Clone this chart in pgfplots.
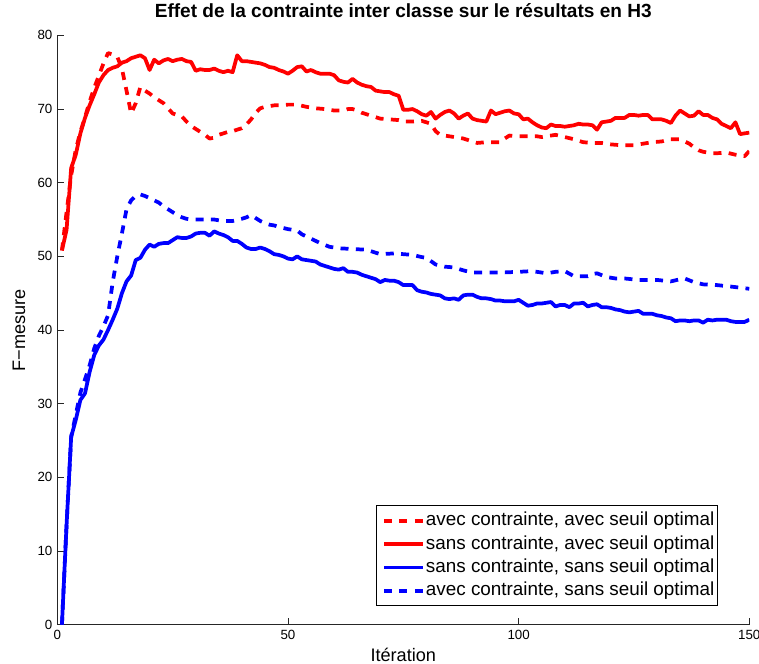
\documentclass[border=0pt]{standalone}
\usepackage{fontspec}
\setmainfont{Liberation Sans}
\usepackage{pgfplots}
\pgfplotsset{compat=1.18}

\begin{document}
\begin{tikzpicture}
\begin{axis}[
    scale only axis, width=519pt, height=442pt,
    xmin=0, xmax=150, ymin=0, ymax=80,
    xtick={0,50,100,150}, ytick={0,10,...,80},
    axis x line*=bottom, axis y line*=left,
    axis line style={-, line width=0.7pt, black!85},
    tick align=inside, major tick length=5pt,
    tick style={line width=0.6pt, black!85},
    /pgf/number format/assume math mode=true,
    tick label style={font=\fontsize{10}{12}\selectfont},
    xticklabel style={anchor=base, yshift=-11.3pt, inner sep=0pt},
    yticklabel style={anchor=east, xshift=-3.5pt, inner sep=0pt},
    title={Effet de la contrainte inter classe sur le résultats en H3},
    title style={font=\bfseries\fontsize{14.3}{16}\selectfont, at={(axis description cs:0.5,1.0176)}, anchor=base, inner sep=0pt},
    xlabel={Itération},
    xlabel style={font=\fontsize{13.6}{16}\selectfont, at={(axis description cs:0.5,-0.0622)}, anchor=base, inner sep=0pt},
    ylabel={F−mesure},
    ylabel style={font=\fontsize{13.6}{16}\selectfont, at={(axis description cs:-0.0466,0.5)}, anchor=base, inner sep=0pt},
    legend style={at={(axis description cs:0.955,0.031)}, anchor=south east,
        draw=black, line width=0.7pt, inner xsep=1.5pt, inner ysep=2.5pt,
        font=\fontsize{14.15}{16}\selectfont,
        nodes={inner xsep=1pt, inner ysep=2pt, text height=10.5pt, text depth=3pt}},
    legend cell align=left,
    legend image code/.code={\path (0pt,0pt); \draw[mark repeat=2,mark phase=2,#1] plot coordinates {(3pt,0pt) (17.5pt,0pt) (32pt,0pt)};},
    every axis plot/.append style={line width=2.8pt, line join=round},
    dashstyle/.style={dash pattern=on 6pt off 5.5pt},
]
\coordinate (sw) at (rel axis cs:0,0);
\coordinate (ne) at (rel axis cs:1,1);

% avec contrainte, avec seuil optimal
\addplot[red, dashstyle] coordinates {
(1,50.8) (2,56) (3,61) (4,64.5) (5,66.9) (6,68.9) (7,71.0) (8,72.9) (9,74.5) (10,76.2)
(11,77.6) (12,77.4) (13,77.1) (14,75.5) (15,72.5) (16,69.4) (17,70.8) (18,73.0) (19,72.5) (20,72.1)
(21,71.6) (22,71.2) (23,70.8) (24,70.1) (25,69.4) (26,69.2) (27,69.0) (28,68.3) (29,67.7) (30,67.3)
(31,66.9) (32,66.5) (33,66.0) (34,66.1) (35,66.5) (36,66.7) (37,66.9) (38,67.0) (39,67.2) (40,67.4)
(41,67.9) (42,68.6) (43,69.5) (44,70.1) (45,70.3) (46,70.4) (47,70.5) (48,70.5) (50,70.6) (52,70.6)
(54,70.3) (56,70.1) (58,70.0) (60,69.8) (62,69.8) (63,70.0) (64,70.0) (65,69.8) (66,69.5) (67,69.3)
(68,69.1) (70,68.7) (72,68.6) (74,68.5) (75,68.3) (77,68.3) (79,68.4) (80,68.2) (81,68.0) (82,67.0)
(83,66.5) (85,66.3) (87,66.1) (88,66.0) (89,65.8) (90,65.6) (91,65.4) (93,65.5) (96,65.5) (97,66.0)
(98,66.4) (100,66.3) (104,66.3) (105,66.2) (108,66.5) (110,66.2) (112,65.9) (114,65.5) (116,65.4) (118,65.4)
(120,65.2) (122,65.1) (125,65.1) (127,65.3) (129,65.5) (131,65.6) (133,65.9) (135,65.9) (136,65.6) (137,65.3)
(138,64.8) (139,64.4) (140,64.2) (142,64.0) (143,64.0) (145,64.1) (147,63.8) (149,63.6) (150,64.3)
};
\addlegendentry{avec contrainte, avec seuil optimal}

% sans contrainte, avec seuil optimal
\addplot[red] coordinates {
(1,50.8) (2,53.6) (3,62.0) (4,63.8) (5,66.7) (6,68.8) (7,70.5) (8,72) (9,73.6) (10,74.6)
(11,75.3) (12,75.6) (13,75.8) (14,76.3) (15,76.5) (16,76.9) (17,77.1) (18,77.3) (19,76.9) (20,75.3)
(21,76.7) (22,76.2) (23,76.6) (24,76.8) (25,76.5) (26,76.7) (27,76.8) (28,76.5) (29,76.4) (30,75.2)
(31,75.4) (32,75.3) (33,75.3) (34,75.5) (35,75.2) (36,75.0) (37,75.2) (38,75.0) (39,77.3) (40,76.5)
(41,76.5) (42,76.4) (43,76.3) (44,76.2) (45,76.0) (46,75.7) (47,75.6) (48,75.3) (49,75.1) (50,74.8)
(51,75.2) (52,75.7) (53,75.8) (54,75.1) (55,75.3) (56,75.0) (57,74.8) (58,74.8) (59,74.8) (60,74.6)
(61,73.9) (62,73.7) (63,73.6) (64,74.1) (65,73.6) (66,73.3) (67,73.1) (68,73.0) (69,72.5) (70,72.4)
(71,72.3) (72,72.3) (73,72.0) (74,71.8) (75,69.9) (76,69.9) (77,70.0) (78,69.7) (79,69.3) (80,69.1)
(81,69.6) (82,68.7) (83,69.2) (84,69.6) (85,69.8) (86,69.4) (87,68.7) (88,69.1) (89,69.4) (90,68.7)
(91,68.5) (92,68.4) (93,68.3) (94,69.8) (95,69.3) (96,69.5) (97,69.7) (98,69.8) (99,69.4) (100,69.3)
(101,68.6) (102,68.7) (103,68.2) (104,67.8) (105,67.5) (106,67.4) (107,67.9) (108,67.7) (109,67.7) (110,67.6)
(111,67.7) (112,67.8) (113,68.0) (114,67.9) (115,67.9) (116,67.8) (117,67.2) (118,68.2) (119,68.3) (120,68.4)
(121,68.8) (122,68.8) (123,68.8) (124,69.2) (125,69.2) (126,69.1) (127,69.2) (128,69.2) (129,68.6) (130,68.6)
(131,68.6) (132,68.4) (133,68.1) (134,69.1) (135,69.8) (136,69.4) (137,69.0) (138,69.1) (139,69.7) (140,69.2)
(141,69.2) (142,68.8) (143,68.6) (144,68.0) (145,67.7) (146,67.4) (147,68.2) (148,66.6) (149,66.7) (150,66.8)
};
\addlegendentry{sans contrainte, avec seuil optimal}

% sans contrainte, sans seuil optimal
\addplot[blue] coordinates {
(1,0) (2,13.5) (3,25.5) (4,27.8) (5,30.5) (6,31.4) (7,34.3) (8,36.6) (9,37.9) (10,38.7)
(11,40.0) (12,41.4) (13,42.9) (14,45.0) (15,46.6) (16,47.4) (17,49.5) (18,49.8) (19,50.9) (20,51.6)
(21,51.3) (22,51.7) (23,51.8) (24,51.8) (25,52.2) (26,52.6) (27,52.5) (28,52.5) (29,52.7) (30,53.1)
(31,53.2) (32,53.2) (33,52.8) (34,53.4) (35,53.1) (36,52.9) (37,52.6) (38,52.1) (39,52.1) (40,51.7)
(41,51.2) (42,51.0) (43,51.0) (44,51.2) (45,51.0) (46,50.7) (47,50.3) (48,50.2) (49,50.0) (50,49.7)
(51,49.6) (52,50.0) (53,49.6) (54,49.5) (55,49.4) (56,49.3) (57,48.9) (58,48.7) (59,48.5) (60,48.3)
(61,48.2) (62,48.4) (63,47.9) (64,47.9) (65,47.8) (66,47.5) (67,47.3) (68,47.1) (69,46.9) (70,46.5)
(71,46.8) (72,46.7) (73,46.7) (74,46.5) (75,46.1) (76,46.1) (77,46.1) (78,45.4) (79,45.2) (80,45.1)
(81,44.9) (82,44.8) (83,44.7) (84,44.3) (85,44.2) (86,44.3) (87,44.1) (88,44.7) (89,44.8) (90,44.8)
(91,44.5) (92,44.3) (93,44.3) (94,44.2) (95,44.0) (96,44.0) (97,43.9) (98,43.9) (99,43.9) (100,44.1)
(101,43.7) (102,43.3) (103,43.4) (104,43.6) (105,43.6) (106,43.7) (107,43.8) (108,43.2) (109,43.4) (110,43.4)
(111,43.1) (112,43.6) (113,43.6) (114,43.7) (115,43.2) (116,43.4) (117,43.5) (118,43.1) (119,43.1) (120,43.0)
(121,42.8) (122,42.7) (123,42.5) (124,42.4) (125,42.5) (126,42.6) (127,42.2) (128,42.2) (129,42.2) (130,42.0)
(131,41.9) (132,41.7) (133,41.6) (134,41.2) (135,41.3) (136,41.3) (137,41.2) (138,41.3) (139,41.3) (140,41.0)
(141,41.4) (142,41.3) (143,41.4) (144,41.4) (145,41.4) (146,41.2) (147,41.1) (148,41.1) (149,41.1) (150,41.4)
};
\addlegendentry{sans contrainte, sans seuil optimal}

% avec contrainte, sans seuil optimal
\addplot[blue, dashstyle] coordinates {
(1,0) (2,13.5) (3,25.5) (4,28.5) (5,31.5) (6,33.3) (7,35.2) (8,37.5) (9,39.2) (10,40.5)
(11,42.0) (12,46.5) (13,50) (14,53.1) (15,56.4) (16,57.6) (17,58.2) (18,58.4) (19,58.2) (20,57.9)
(21,57.6) (22,57.3) (23,56.8) (24,56.4) (25,56.0) (26,55.6) (27,55.3) (28,55.1) (29,55.0) (30,55.0)
(32,55.0) (34,55.0) (36,54.8) (38,54.8) (40,55.1) (41,55.3) (42,55.6) (43,55.2) (44,54.8) (45,54.5)
(46,54.3) (47,54.2) (48,54.0) (50,53.7) (52,53.5) (53,53.0) (55,52.4) (57,51.8) (59,51.3) (61,51.1)
(64,51.0) (67,50.9) (69,50.5) (70,50.3) (73,50.4) (75,50.3) (77,50.2) (79,49.9) (80,49.8) (82,48.9)
(84,48.6) (86,48.5) (88,48.1) (90,47.8) (93,47.8) (96,47.8) (100,47.9) (103,48.0) (106,47.7) (108,47.9)
(110,48.0) (112,47.3) (115,47.3) (116,47.6) (117,47.7) (119,47.2) (121,47.0) (123,47.0) (126,46.8) (130,46.8)
(133,46.6) (135,46.9) (136,47.0) (138,46.5) (140,46.2) (143,46.1) (146,45.9) (150,45.6)
};
\addlegendentry{avec contrainte, sans seuil optimal}
\end{axis}
\pgfresetboundingbox
\path ([shift={(-43pt,-29.25pt)}]sw) rectangle ([shift={(7.3pt,26.55pt)}]ne);
\end{tikzpicture}
\end{document}
